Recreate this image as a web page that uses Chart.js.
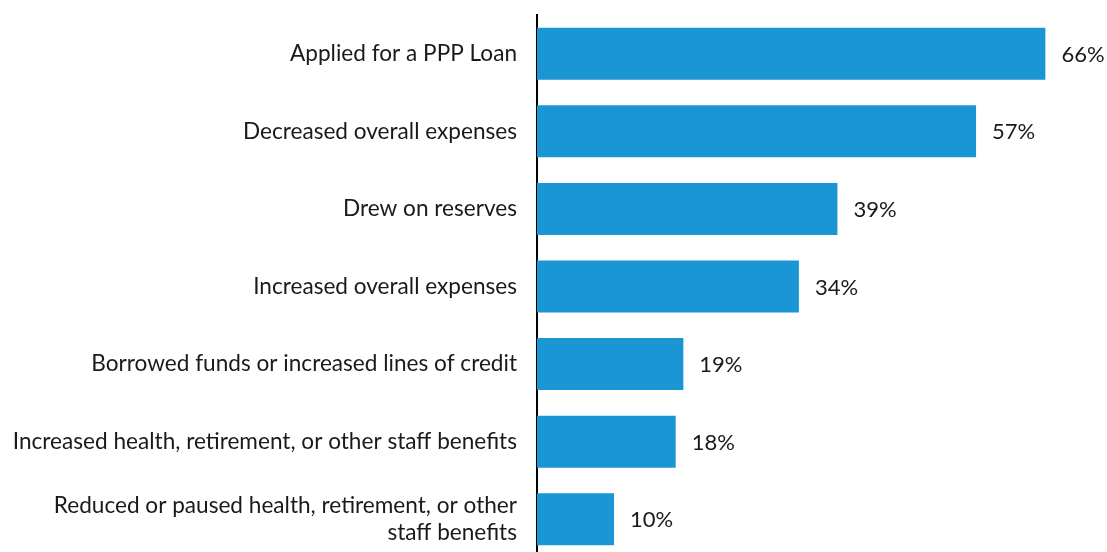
<!DOCTYPE html>
<html>
<head>
<meta charset="utf-8">
<script src="https://cdn.jsdelivr.net/npm/chart.js@4.4.1/dist/chart.umd.min.js"></script>
<style>
  html, body { margin: 0; padding: 0; background: #fff; overflow: hidden; }
  #wrap { width: 1107px; height: 558px; position: relative; }
</style>
</head>
<body>
<div id="wrap"><canvas id="chart"></canvas></div>
<script>
  const categories = [
    "Applied for a PPP Loan",
    "Decreased overall expenses",
    "Drew on reserves",
    "Increased overall expenses",
    "Borrowed funds or increased lines of credit",
    "Increased health, retirement, or other staff benefits",
    ["Reduced or paused health, retirement, or other", "staff benefits"]
  ];
  const shares = [66, 57, 39, 34, 19, 18, 10];

  const barColor = "#1996d3";
  const textColor = "#1a1a1a";

  // draw the "66%" style labels to the right of each bar
  const valueLabels = {
    id: "valueLabels",
    afterDatasetsDraw(chart) {
      const ctx = chart.ctx;
      const meta = chart.getDatasetMeta(0);
      ctx.save();
      ctx.font = "22px Lato";
      ctx.fillStyle = textColor;
      ctx.textAlign = "left";
      ctx.textBaseline = "middle";
      meta.data.forEach((bar, i) => {
        ctx.fillText(shares[i] + "%", bar.x + 16, bar.y + 1);
      });
      ctx.restore();
    }
  };

  new Chart(document.getElementById("chart"), {
    type: "bar",
    data: {
      labels: categories,
      datasets: [{
        data: shares,
        backgroundColor: barColor,
        barPercentage: 0.67,
        categoryPercentage: 1
      }]
    },
    options: {
      indexAxis: "y",
      responsive: true,
      maintainAspectRatio: false,
      animation: false,
      layout: { padding: { top: 15, bottom: 0, left: 0, right: 0 } },
      plugins: {
        legend: { display: false },
        tooltip: { enabled: false }
      },
      scales: {
        x: {
          display: false,
          min: 0,
          max: 74
        },
        y: {
          afterFit: scale => {
            scale.width = 537;
            scale.paddingTop = 0;
            scale.paddingBottom = 0;
          },
          grid: { display: false, drawTicks: false },
          border: { display: true, color: "#000", width: 2 },
          ticks: {
            padding: 20,
            color: textColor,
            font: { family: "Lato", size: 22.6, lineHeight: 1.22 }
          }
        }
      }
    },
    plugins: [valueLabels]
  });
</script>
</body>
</html>
